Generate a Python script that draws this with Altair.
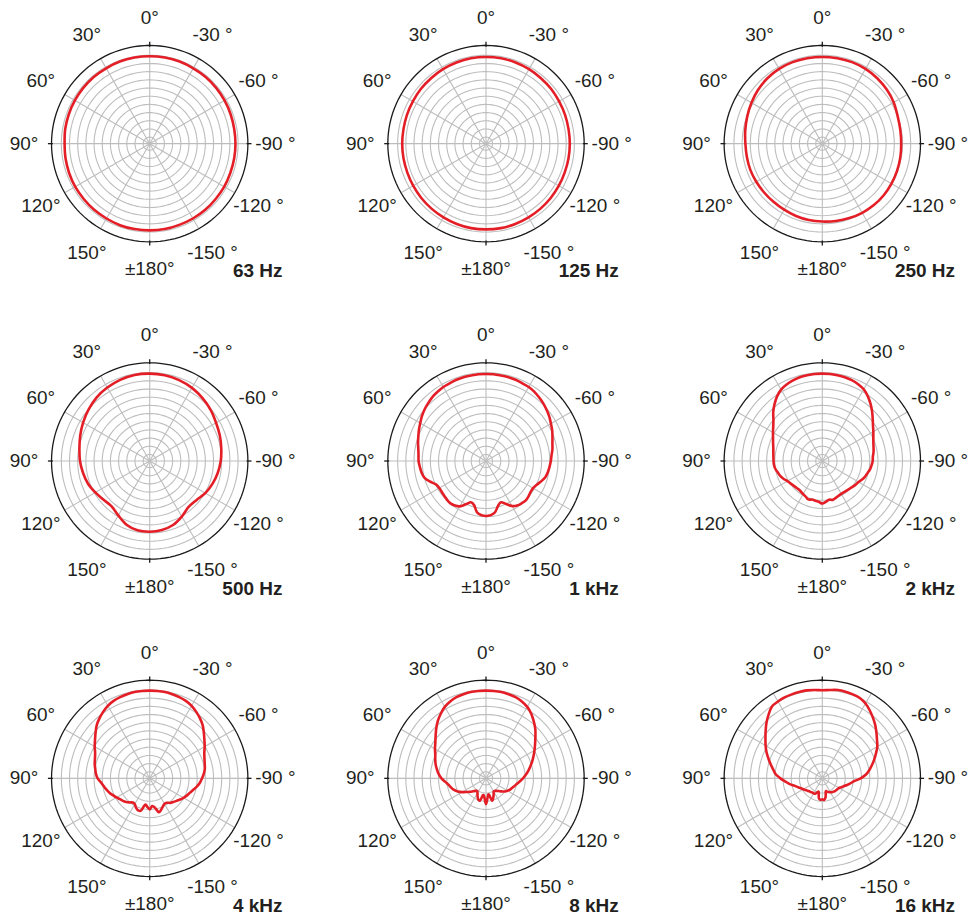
import altair as alt
import pandas as pd

# ---------------- data (levels in dB, angle in degrees, + = counter-clockwise) -------------
ANGLES_10 = list(range(-180, 180, 10))
ANGLES_5 = list(range(-180, 180, 5))

LEVEL_63HZ = [-0.5, -0.5, -0.6, -0.6, -0.6, -0.7, -0.7, -0.8, -0.8, -0.8, -0.8, -0.7,
              -0.6, -0.5, -0.4, -0.4, -0.3, -0.3, -0.3, -0.3, -0.3, -0.4, -0.4, -0.5,
              -0.6, -0.7, -0.8, -1.0, -0.9, -0.8, -0.7, -0.7, -0.6, -0.6, -0.5, -0.5]
LEVEL_125HZ = [-0.8, -0.8, -0.9, -1.0, -1.1, -1.2, -1.3, -1.4, -1.4, -1.4, -1.4, -1.3,
               -1.2, -1.0, -0.9, -0.7, -0.6, -0.5, -0.5, -0.5, -0.6, -0.7, -0.9, -1.0,
               -1.2, -1.3, -1.4, -1.4, -1.4, -1.4, -1.3, -1.2, -1.1, -1.0, -0.9, -0.8]
LEVEL_250HZ = [-3.2, -3.0, -2.8, -2.6, -2.5, -2.5, -2.6, -2.7, -2.8, -2.9, -2.8, -2.5,
               -1.8, -1.3, -0.9, -0.6, -0.5, -0.5, -0.5, -0.5, -0.5, -0.6, -0.9, -1.4,
               -2.0, -2.6, -3.1, -3.5, -3.6, -3.6, -3.7, -3.8, -3.8, -3.7, -3.5, -3.3]
LEVEL_500HZ = [-5.4, -5.6, -6.2, -7.4, -8.6, -8.4, -7.4, -6.6, -5.9, -5.3, -4.8, -4.2,
               -3.6, -2.7, -1.9, -1.2, -0.7, -0.4, -0.3, -0.3, -0.6, -1.1, -1.7, -2.6,
               -3.5, -4.4, -5.2, -5.7, -6.3, -6.9, -7.8, -8.6, -8.9, -7.8, -6.3, -5.5]
LEVEL_1KHZ = [-10.2, -10.4, -11.1, -12.8, -13.6, -12.5, -11.1, -10.4, -10.1, -9.9, -10.1, -10.4,
              -10.4, -9.9, -9.0, -8.2, -7.8, -7.5, -7.2, -6.9, -6.4, -6.0, -5.4, -4.7,
              -4.1, -3.4, -2.8, -2.2, -1.7, -1.2, -0.9, -0.8, -0.6, -0.5, -0.5, -0.4,
              -0.4, -0.4, -0.5, -0.5, -0.6, -0.8, -0.9, -1.2, -1.5, -2.0, -2.5, -3.1,
              -3.8, -4.4, -5.0, -5.5, -6.0, -6.3, -6.4, -6.7, -7.0, -7.5, -8.7, -10.1,
              -10.5, -10.5, -10.4, -10.2, -10.1, -10.4, -11.0, -12.4, -13.6, -13.0, -11.1, -10.4]
LEVEL_2KHZ = [-14.0, -14.5, -15.0, -14.7, -15.0, -15.3, -15.4, -15.4, -15.3, -15.1, -14.8, -14.5,
              -14.2, -13.6, -13.1, -12.7, -12.2, -11.9, -11.6, -11.5, -11.1, -10.8, -10.4, -9.8,
              -9.0, -8.1, -6.9, -5.5, -4.1, -2.8, -1.7, -1.1, -0.7, -0.5, -0.4, -0.3,
              -0.3, -0.3, -0.4, -0.5, -0.8, -1.2, -1.8, -2.9, -4.3, -5.8, -7.5, -8.7,
              -9.6, -10.4, -11.0, -11.5, -11.8, -12.0, -12.1, -12.2, -12.5, -13.0, -13.4, -14.0,
              -14.7, -15.1, -15.4, -15.6, -15.7, -15.6, -15.3, -15.0, -14.5, -14.8, -14.7, -14.5]
LEVEL_4KHZ = [-17.5, -18.5, -17.9, -16.3, -16.8, -17.5, -18.0, -17.9, -17.2, -16.8, -16.3, -15.7,
              -15.1, -14.5, -14.0, -13.3, -12.4, -11.6, -11.0, -10.4, -9.9, -9.6, -9.2, -8.6,
              -7.6, -6.6, -5.4, -4.1, -3.1, -2.2, -1.4, -0.9, -0.6, -0.4, -0.2, -0.2,
              -0.2, -0.2, -0.2, -0.4, -0.6, -0.9, -1.4, -2.2, -3.1, -4.1, -5.4, -6.6,
              -7.6, -8.6, -9.2, -9.6, -10.1, -10.5, -11.1, -12.1, -12.8, -13.4, -14.0, -14.7,
              -15.3, -15.9, -16.3, -16.8, -17.4, -18.0, -17.9, -17.1, -16.6, -16.8, -18.8, -18.3]
LEVEL_8KHZ = [-19.1, -21.2, -22.0, -20.0, -20.6, -21.5, -22.3, -22.3, -22.0, -21.5, -20.8, -20.0,
              -19.4, -18.9, -18.5, -18.0, -17.4, -16.6, -15.7, -14.8, -13.9, -13.0, -12.0, -11.0,
              -9.9, -8.7, -7.3, -5.7, -4.3, -2.9, -1.8, -1.1, -0.6, -0.4, -0.2, -0.2,
              -0.2, -0.2, -0.2, -0.4, -0.6, -1.1, -1.8, -2.9, -4.1, -5.5, -6.9, -8.1,
              -9.0, -9.9, -10.5, -11.1, -11.8, -12.5, -13.4, -14.5, -15.4, -16.0, -16.6, -17.5,
              -18.6, -19.7, -20.6, -21.4, -22.0, -22.3, -21.8, -20.9, -20.1, -20.0, -21.8, -21.2]
LEVEL_16KHZ = [-20.6, -20.4, -21.2, -22.9, -22.6, -22.4, -22.1, -21.8, -21.7, -21.5, -21.4, -21.3,
               -21.1, -20.6, -20.0, -19.2, -18.3, -17.2, -15.3, -13.6, -12.4, -11.3, -10.1, -8.9,
               -7.6, -6.6, -5.4, -4.1, -2.9, -1.7, -0.6, 0.1, 0.3, 0.4, 0.4, 0.1,
               -0.1, 0.1, 0.3, 0.3, 0.3, 0.3, 0.1, -0.2, -1.5, -2.9, -4.4, -5.8,
               -7.0, -8.2, -9.5, -10.7, -11.8, -12.7, -14.2, -15.7, -16.9, -18.2, -19.1, -19.8,
               -20.3, -20.8, -21.1, -21.4, -21.5, -21.7, -21.7, -21.8, -22.4, -22.7, -20.9, -20.4]

PANELS = [
    ("63 Hz", ANGLES_10, LEVEL_63HZ),
    ("125 Hz", ANGLES_10, LEVEL_125HZ),
    ("250 Hz", ANGLES_10, LEVEL_250HZ),
    ("500 Hz", ANGLES_10, LEVEL_500HZ),
    ("1 kHz", ANGLES_5, LEVEL_1KHZ),
    ("2 kHz", ANGLES_5, LEVEL_2KHZ),
    ("4 kHz", ANGLES_5, LEVEL_4KHZ),
    ("8 kHz", ANGLES_5, LEVEL_8KHZ),
    ("16 kHz", ANGLES_5, LEVEL_16KHZ),
]
for _name, _a, _l in PANELS:
    assert len(_a) == len(_l), _name

RING_LEVELS = [0, -2.5, -5, -7.5, -10, -12.5, -15, -17.5, -20, -22.5, -25]
OUTER_LEVEL = 3
CENTRE_LEVEL = -27          # level drawn at the centre of each diagram
SPOKE_ANGLES = list(range(0, 360, 30))
TICK_ANGLES = [0, 90, 180, 270]
TICK_LEVELS = [2.6, 4.1]
LABEL_ANGLES = [0, 30, 60, 90, 120, 150, 180, -150, -120, -90, -60, -30]
LABEL_TEXTS = ["0°", "30°", "60°", "90°", "120°", "150°", "±180°",
               "-150 °", "-120 °", "-90 °", "-60 °", "-30 °"]
LABEL_LEVEL = 11.4

# ---------------- layout / style -------------
PX_PER_DB = 3.28
W, H = 284, 268
FONT = "Liberation Sans"
TEXT_COLOR = "#231f20"
GRID_COLOR = "#bdbdbd"
CURVE_COLOR = "#e41e26"

XS = alt.Scale(domain=[-W / 2 / PX_PER_DB, W / 2 / PX_PER_DB], nice=False, zero=False)
YS = alt.Scale(domain=[-H / 2 / PX_PER_DB, H / 2 / PX_PER_DB], nice=False, zero=False)


def polar(chart):
    return chart.transform_calculate(
        x=f"-(datum.level - ({CENTRE_LEVEL})) * sin(datum.angle * PI / 180)",
        y=f"(datum.level - ({CENTRE_LEVEL})) * cos(datum.angle * PI / 180)",
    )


def enc():
    return dict(
        x=alt.X("x:Q", scale=XS, axis=None),
        y=alt.Y("y:Q", scale=YS, axis=None),
    )


circle_steps = list(range(0, 365, 3))
ring_df = pd.DataFrame(
    [{"ring": lv, "level": lv, "angle": a} for lv in RING_LEVELS for a in circle_steps]
)
outer_df = pd.DataFrame([{"level": OUTER_LEVEL, "angle": a} for a in circle_steps])
spoke_df = pd.DataFrame(
    [{"spoke": a, "angle": a, "level": lv} for a in SPOKE_ANGLES for lv in (CENTRE_LEVEL, OUTER_LEVEL)]
)
tick_df = pd.DataFrame(
    [{"tick": a, "angle": a, "level": lv} for a in TICK_ANGLES for lv in TICK_LEVELS]
)
label_df = pd.DataFrame(
    {"angle": LABEL_ANGLES, "label": LABEL_TEXTS, "level": [LABEL_LEVEL] * len(LABEL_ANGLES)}
)


def panel(name, angles, levels):
    rings = polar(alt.Chart(ring_df)).mark_line(
        color=GRID_COLOR, strokeWidth=1.1
    ).encode(detail="ring:N", order="angle:Q", **enc())
    spokes = polar(alt.Chart(spoke_df)).mark_line(
        color=GRID_COLOR, strokeWidth=1.1
    ).encode(detail="spoke:N", order="level:Q", **enc())
    outer = polar(alt.Chart(outer_df)).mark_line(
        color="#1a1a1a", strokeWidth=1.3
    ).encode(order="angle:Q", **enc())
    ticks = polar(alt.Chart(tick_df)).mark_line(
        color="#1a1a1a", strokeWidth=1.3
    ).encode(detail="tick:N", order="level:Q", **enc())
    curve_df = pd.DataFrame({"angle": angles, "level": levels})
    curve = polar(alt.Chart(curve_df)).mark_line(
        color=CURVE_COLOR, strokeWidth=2.6, interpolate="cardinal-closed"
    ).encode(order="angle:Q", **enc())
    labels = polar(alt.Chart(label_df)).mark_text(
        font=FONT, fontSize=19, color=TEXT_COLOR, align="center", baseline="middle"
    ).encode(text="label:N", **enc())
    title = alt.Chart(pd.DataFrame({"label": [name]})).mark_text(
        font=FONT, fontSize=19, fontWeight="bold", color=TEXT_COLOR,
        align="right", baseline="middle"
    ).encode(text="label:N", x=alt.value(W / 2 + 133), y=alt.value(H / 2 + 128))
    return alt.layer(rings, spokes, outer, ticks, curve, labels, title).properties(
        width=W, height=H
    )


panels = [panel(*p) for p in PANELS]
chart = alt.concat(
    *panels, columns=3, spacing={"row": 50, "column": 53}, bounds="flush"
).properties(
    padding=0, background="white"
).configure_view(stroke=None)

chart.save("out.html", embed_options={"renderer": "svg", "actions": False})
